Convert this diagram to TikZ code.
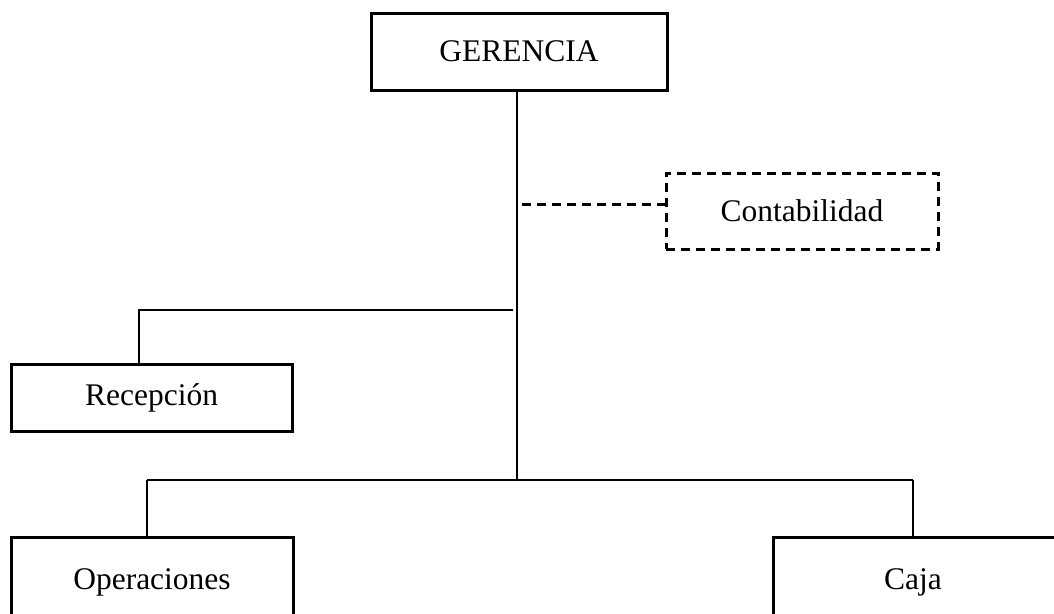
\documentclass[tikz,border=0pt]{standalone}
\usepackage{fontspec}
\setmainfont{Liberation Serif}
\begin{document}
\begin{tikzpicture}[x=1pt,y=-1pt,
  box/.style={draw=black,line width=3pt,rectangle,inner sep=0pt,align=center,font=\fontsize{31.5}{36}\selectfont},
  dbox/.style={box,dashed,line width=3pt,dash pattern=on 9pt off 6pt},
  conn/.style={draw=black,line width=1.4pt},
  dconn/.style={draw=black,line width=3pt,dash pattern=on 9pt off 6pt}]
\useasboundingbox (0,0) rectangle (1054,613);
\clip (0,0) rectangle (1054,613);
\node[box,minimum width=296pt,minimum height=77pt] (G) at (519,51.5) {GERENCIA};
\node[box,dashed,dash pattern=on 9pt off 6pt,minimum width=272pt,minimum height=76pt] (C) at (802,211) {Contabilidad};
\node[box,minimum width=281pt,minimum height=67pt] (R) at (151.6,398) {Recepción};
\node[box,minimum width=282pt,minimum height=90pt] (O) at (152,582) {Operaciones};
\node[box,minimum width=290pt,minimum height=90pt] (K) at (918,582) {Caja\hspace*{10pt}};
\coordinate (j1) at (517,310);
\coordinate (j2) at (517,480);
\coordinate (r1) at (513,310);
\coordinate (r2) at (139,310);
\coordinate (b1) at (147,480);
\coordinate (b2) at (913,480);
\coordinate (d0) at (522,204);
\draw[conn] (G.south -| j2) -- (j2);
\draw[conn] (r1) -- (r2) -- (R.north -| r2);
\draw[conn] (b1) -- (b2);
\draw[conn] (b1) -- (O.north -| b1);
\draw[conn] (b2) -- (K.north -| b2);
\draw[dconn] (d0) -- (C.west |- d0);
\end{tikzpicture}
\end{document}
